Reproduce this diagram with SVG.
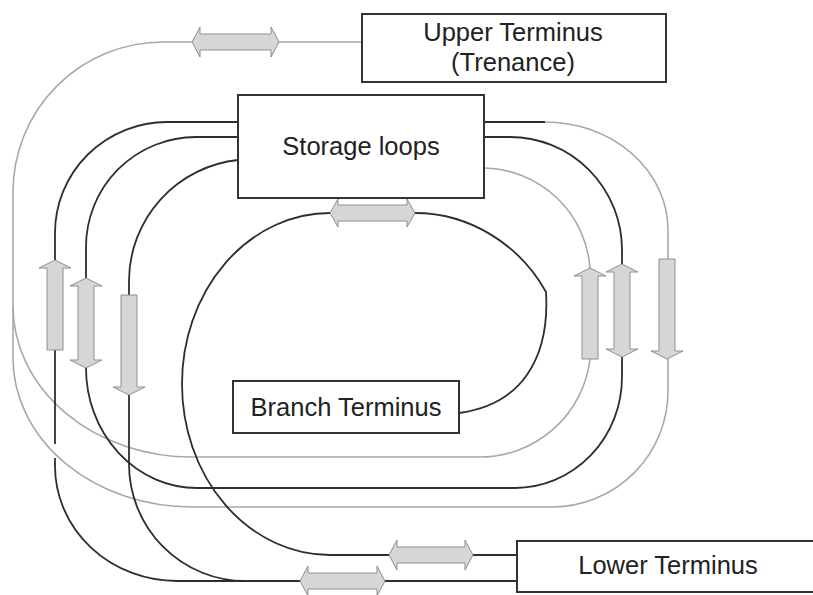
<svg xmlns="http://www.w3.org/2000/svg" width="813" height="595" viewBox="0 0 813 595">
  <style>
    .track { fill: none; stroke-linecap: butt; stroke-linejoin: round; }
    .dark { stroke: #2e2e2e; stroke-width: 1.8; }
    .light { stroke: #a8a8a8; stroke-width: 1.6; }
    .arrow { fill: #d6d6d6; stroke: #8e8e8e; stroke-width: 1; stroke-linejoin: miter; }
    .box { fill: #ffffff; stroke: #333333; stroke-width: 2; }
    .label { font-family: "Liberation Sans", Arial, sans-serif; font-size: 25.5px; fill: #222222; text-anchor: middle; }
  </style>

  <!-- Track lines -->
  <g id="connectors">
    <!-- Outer grey line from the upper terminus round the whole layout -->
    <path class="track light" d="M362,42 L279,42"/>
    <path class="track light" d="M192,42 L163,42 A150,150 0 0 0 13,192 L13,358 A179,149 0 0 0 192,507 L553,507 A116,116 0 0 0 668,391 L668,359"/>
    <path class="track light" d="M668,259 L668,230 A123,108 0 0 0 545,122"/>
    <path class="track dark" d="M545,122 L484,122"/>
    <!-- Inner grey loop -->
    <path class="track light" d="M13,306 A179,151 0 0 0 192,457 L480,457 A111,111 0 0 0 590,359"/>
    <path class="track light" d="M590,268 A108,108 0 0 0 485,168 L484,168"/>

    <!-- Black line A: storage loops to lower terminus -->
    <path class="track dark" d="M238,122 L167,122 A112,111 0 0 0 55,233 L55,260"/>
    <path class="track dark" d="M55,350 L55,444"/>
    <path class="track dark" d="M55,458 L55,466 A122,115 0 0 0 177,581 L300,581"/>
    <path class="track dark" d="M385,581 L517,581"/>

    <!-- Black line B: full storage loop -->
    <path class="track dark" d="M238,137 L196,137 A110,110 0 0 0 86,247 L86,278"/>
    <path class="track dark" d="M86,368 A111,120 0 0 0 197,488 L515,488 A107,111 0 0 0 622,377 L622,357"/>
    <path class="track dark" d="M622,264 L622,250 A112,113 0 0 0 510,137 L484,137"/>

    <!-- Black line C: storage loops down to the lower line -->
    <path class="track dark" d="M238,160 A122,122 0 0 0 129,280 L129,295"/>
    <path class="track dark" d="M129,395 L129,464 A116,117 0 0 0 245,581 L300,581"/>

    <!-- Branch line -->
    <path class="track dark" d="M415,213 C470,213 520,245 546,292 C550,360 520,405 459,413"/>
    <path class="track dark" d="M330,213 A148,171 0 0 0 330,555 L389,555"/>
    <path class="track dark" d="M473,555 L517,555"/>
  </g>

  <!-- Direction arrows -->
  <g id="arrows">
    <path class="arrow" d="M192,42 L200,27 L200,34 L271,34 L271,27 L279,42 L271,57 L271,50 L200,50 L200,57 Z"/>
    <path class="arrow" d="M330,213 L338,199 L338,205 L407,205 L407,199 L415,213 L407,227 L407,221 L338,221 L338,227 Z"/>
    <path class="arrow" d="M389,555 L397,540 L397,547 L465,547 L465,540 L473,555 L465,570 L465,563 L397,563 L397,570 Z"/>
    <path class="arrow" d="M300,581 L308,566 L308,573 L377,573 L377,566 L385,581 L377,596 L377,589 L308,589 L308,596 Z"/>
    <path class="arrow" d="M55,260 L71,268 L63,268 L63,350 L47,350 L47,268 L39,268 Z"/>
    <path class="arrow" d="M86,278 L102,286 L94,286 L94,360 L102,360 L86,368 L70,360 L78,360 L78,286 L70,286 Z"/>
    <path class="arrow" d="M121,295 L137,295 L137,387 L145,387 L129,395 L113,387 L121,387 Z"/>
    <path class="arrow" d="M590,268 L606,276 L598,276 L598,359 L582,359 L582,276 L574,276 Z"/>
    <path class="arrow" d="M622,264 L638,272 L630,272 L630,349 L638,349 L622,357 L606,349 L614,349 L614,272 L606,272 Z"/>
    <path class="arrow" d="M659,259 L675,259 L675,351 L683,351 L667,359 L651,351 L659,351 Z"/>
  </g>

  <!-- Stations -->
  <g id="upper-terminus">
    <rect class="box" x="362" y="14" width="304" height="68"/>
    <text class="label" x="513" y="41">Upper Terminus</text>
    <text class="label" x="513" y="71">(Trenance)</text>
  </g>
  <g id="storage-loops">
    <rect class="box" x="238" y="95" width="246" height="103"/>
    <text class="label" x="361" y="155">Storage loops</text>
  </g>
  <g id="branch-terminus">
    <rect class="box" x="233" y="381" width="226" height="52"/>
    <text class="label" x="346" y="416">Branch Terminus</text>
  </g>
  <g id="lower-terminus">
    <rect class="box" x="517" y="541" width="310" height="51"/>
    <text class="label" x="668" y="574">Lower Terminus</text>
  </g>
</svg>
